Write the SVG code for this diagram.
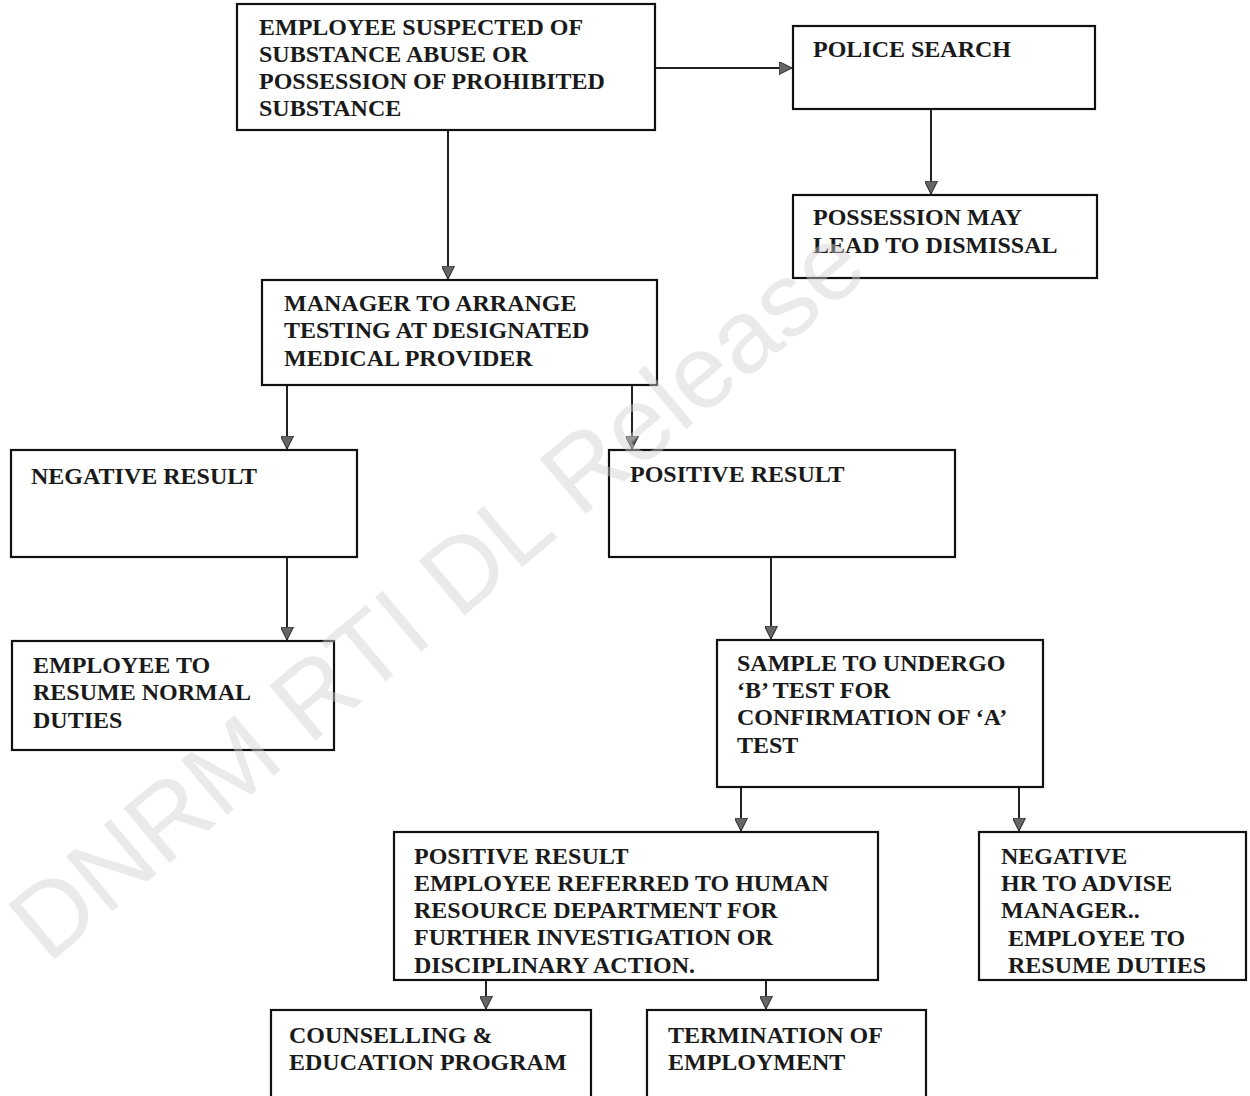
<svg xmlns="http://www.w3.org/2000/svg" width="1250" height="1096" viewBox="0 0 1250 1096">
<style>
.box{fill:#fff;stroke:#111;stroke-width:2.2}
.t{font-family:"Liberation Serif","Times New Roman",serif;font-size:24px;font-weight:bold;fill:#1a1a1a}
.c{stroke:#222;stroke-width:2;fill:none;marker-end:url(#ah)}
.wm{font-family:"Liberation Sans",Arial,sans-serif;font-size:104px;fill:#d0d0d0;fill-opacity:0.45}
</style>
<defs>
<marker id="ah" viewBox="0 0 10 10" refX="10" refY="5" markerWidth="6.5" markerHeight="6.5" orient="auto" markerUnits="strokeWidth">
<path d="M0,0 L10,5 L0,10 Z" fill="#666" stroke="#333" stroke-width="0.8"/>
</marker>
</defs>
<rect width="1250" height="1096" fill="#fff"/>
<g id="connectors">
<path class="c" d="M655,68 H792"/>
<path class="c" d="M931,109 V194"/>
<path class="c" d="M448,130 V279"/>
<path class="c" d="M287,385 V449"/>
<path class="c" d="M632,385 V449"/>
<path class="c" d="M287,557 V640"/>
<path class="c" d="M771,557 V639"/>
<path class="c" d="M741,787 V831"/>
<path class="c" d="M1019,787 V831"/>
<path class="c" d="M486,980 V1009"/>
<path class="c" d="M766,980 V1009"/>
</g>
<g id="n1">
<rect class="box" x="237" y="4" width="418" height="126"/>
<text class="t" x="259" y="35">EMPLOYEE  SUSPECTED OF</text>
<text class="t" x="259" y="62">SUBSTANCE ABUSE OR</text>
<text class="t" x="259" y="89">POSSESSION OF PROHIBITED</text>
<text class="t" x="259" y="116">SUBSTANCE</text>
</g>
<g id="n2">
<rect class="box" x="793" y="26" width="302" height="83"/>
<text class="t" x="813" y="57">POLICE SEARCH</text>
</g>
<g id="n3">
<rect class="box" x="793" y="195" width="304" height="83"/>
<text class="t" x="813" y="225">POSSESSION MAY</text>
<text class="t" x="813" y="253">LEAD TO DISMISSAL</text>
</g>
<g id="n4">
<rect class="box" x="262" y="280" width="395" height="105"/>
<text class="t" x="284" y="311">MANAGER TO ARRANGE</text>
<text class="t" x="284" y="338">TESTING AT DESIGNATED</text>
<text class="t" x="284" y="366">MEDICAL PROVIDER</text>
</g>
<g id="n5">
<rect class="box" x="11" y="450" width="346" height="107"/>
<text class="t" x="31" y="484">NEGATIVE RESULT</text>
</g>
<g id="n6">
<rect class="box" x="609" y="450" width="346" height="107"/>
<text class="t" x="630" y="482">POSITIVE RESULT</text>
</g>
<g id="n7">
<rect class="box" x="12" y="641" width="322" height="109"/>
<text class="t" x="33" y="673">EMPLOYEE TO</text>
<text class="t" x="33" y="700">RESUME NORMAL</text>
<text class="t" x="33" y="728">DUTIES</text>
</g>
<g id="n8">
<rect class="box" x="717" y="640" width="326" height="147"/>
<text class="t" x="737" y="671">SAMPLE TO UNDERGO</text>
<text class="t" x="737" y="698">‘B’ TEST FOR</text>
<text class="t" x="737" y="725">CONFIRMATION OF ‘A’</text>
<text class="t" x="737" y="753">TEST</text>
</g>
<g id="n9">
<rect class="box" x="394" y="832" width="484" height="148"/>
<text class="t" x="414" y="864">POSITIVE RESULT</text>
<text class="t" x="414" y="891">EMPLOYEE REFERRED TO HUMAN</text>
<text class="t" x="414" y="918">RESOURCE DEPARTMENT FOR</text>
<text class="t" x="414" y="945">FURTHER INVESTIGATION OR</text>
<text class="t" x="414" y="973">DISCIPLINARY ACTION.</text>
</g>
<g id="n10">
<rect class="box" x="979" y="832" width="267" height="148"/>
<text class="t" x="1001" y="864">NEGATIVE</text>
<text class="t" x="1001" y="891">HR TO ADVISE</text>
<text class="t" x="1001" y="918">MANAGER..</text>
<text class="t" x="1008" y="946"> EMPLOYEE TO</text>
<text class="t" x="1008" y="973">RESUME DUTIES</text>
</g>
<g id="n11">
<rect class="box" x="271" y="1010" width="320" height="90"/>
<text class="t" x="289" y="1043">COUNSELLING &amp;</text>
<text class="t" x="289" y="1070">EDUCATION PROGRAM</text>
</g>
<g id="n12">
<rect class="box" x="647" y="1010" width="279" height="90"/>
<text class="t" x="668" y="1043">TERMINATION OF</text>
<text class="t" x="668" y="1070">EMPLOYMENT</text>
</g>
<text class="wm" x="0" y="0" transform="translate(48,965) rotate(-40)">DNRM RTI DL Release</text>
</svg>
